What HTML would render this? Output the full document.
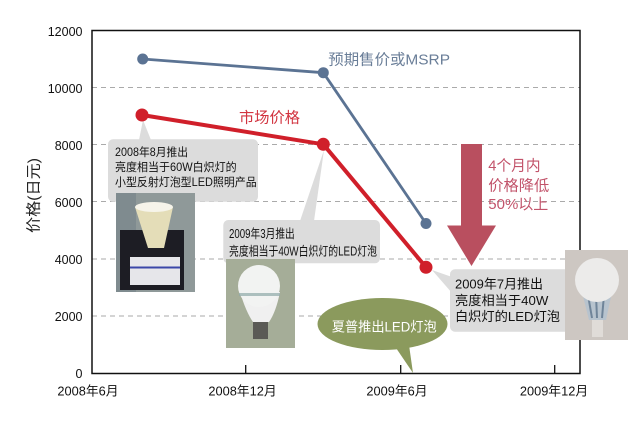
<!DOCTYPE html>
<html><head><meta charset="utf-8">
<style>
html,body{margin:0;padding:0;background:#fff;}
svg{display:block;font-family:"Liberation Sans","Noto Sans CJK SC",sans-serif;}
</style></head>
<body>
<svg width="642" height="427" viewBox="0 0 642 427" xmlns="http://www.w3.org/2000/svg">
<rect width="642" height="427" fill="#fff"/>
<!-- gridlines -->
<g stroke="#aaaaaa" stroke-width="1" stroke-dasharray="5,4">
<line x1="92" y1="87.5" x2="580" y2="87.5"/>
<line x1="92" y1="144.5" x2="580" y2="144.5"/>
<line x1="92" y1="201.5" x2="580" y2="201.5"/>
<line x1="92" y1="259" x2="580" y2="259"/>
<line x1="92" y1="316" x2="580" y2="316"/>
</g>
<!-- axes frame -->
<rect x="92" y="30.5" width="488" height="343" fill="none" stroke="#111" stroke-width="1.5"/>
<g stroke="#111" stroke-width="1.3">
<line x1="245.7" y1="365" x2="245.7" y2="373"/>
<line x1="400.7" y1="365" x2="400.7" y2="373"/>
<line x1="554.7" y1="365" x2="554.7" y2="373"/>
</g>
<!-- y tick labels -->
<g font-size="12.5" fill="#111" text-anchor="end">
<text x="82.5" y="36">12000</text>
<text x="82.5" y="93">10000</text>
<text x="82.5" y="150">8000</text>
<text x="82.5" y="207">6000</text>
<text x="82.5" y="264">4000</text>
<text x="82.5" y="321">2000</text>
<text x="82.5" y="378">0</text>
</g>
<text transform="translate(34,195.5) rotate(-90)" font-size="15" fill="#222" text-anchor="middle" dominant-baseline="central" textLength="75" lengthAdjust="spacingAndGlyphs">价格(日元)</text>
<!-- x labels -->
<g font-size="12.8" fill="#111" text-anchor="middle">
<text x="88" y="395.5">2008年6月</text>
<text x="242.5" y="395.5">2008年12月</text>
<text x="397" y="395.5">2009年6月</text>
<text x="554" y="395.5">2009年12月</text>
</g>

<!-- callout 1 -->
<polygon points="139,140 151,140 143,120" fill="#dcdcdc"/>
<rect x="108" y="139.3" width="150" height="62.4" rx="5" fill="#dcdcdc"/>
<g font-size="11.5" fill="#111">
<text x="115" y="155.8" textLength="73" lengthAdjust="spacingAndGlyphs">2008年8月推出</text>
<text x="115" y="170.8" textLength="121.7" lengthAdjust="spacingAndGlyphs">亮度相当于60W白炽灯的</text>
<text x="115" y="185.8" textLength="141.7" lengthAdjust="spacingAndGlyphs">小型反射灯泡型LED照明产品</text>
</g>
<!-- photo 1 -->
<rect x="116" y="193" width="79" height="99" fill="#8f9999"/>
<rect x="116" y="193" width="20" height="99" fill="#7f8b8f"/>
<rect x="120" y="230" width="64" height="60" fill="#1d1d24"/>
<rect x="130" y="257" width="50" height="28" fill="#e6e6ea"/>
<rect x="130" y="266.5" width="50" height="2" fill="#3a46a8"/>
<path d="M135,207 L173,207 L164,248 L148,248 Z" fill="#e4ddb8"/>
<ellipse cx="154" cy="207" rx="19" ry="5" fill="#f6f4ea"/>

<!-- callout 2 -->
<polygon points="300,221 314,221 324,150" fill="#dcdcdc"/>
<rect x="223.3" y="220" width="156.7" height="43.3" rx="5" fill="#dcdcdc"/>
<g font-size="12.5" fill="#111">
<text x="229" y="238" textLength="65.7" lengthAdjust="spacingAndGlyphs">2009年3月推出</text>
<text x="229" y="255.5" textLength="148" lengthAdjust="spacingAndGlyphs">亮度相当于40W白炽灯的LED灯泡</text>
</g>
<!-- photo 2 -->
<rect x="226" y="259" width="69" height="89" fill="#a5ad98"/>
<path d="M240,292 Q246,312 253,322 L269,322 Q276,312 280,292 Z" fill="#f0f0f0"/>
<circle cx="259" cy="286" r="21" fill="#f2f3f2"/>
<rect x="239" y="293" width="41" height="3" fill="#8fa8a8" opacity="0.7"/>
<rect x="253" y="322" width="15" height="17" fill="#5a5a55"/>

<!-- olive bubble -->
<polygon points="394,345 409,345 413,373" fill="#8b9a5d"/>
<ellipse cx="382.5" cy="324" rx="65" ry="26" fill="#8b9a5d"/>
<text x="331.7" y="331.5" font-size="13.5" fill="#fff" textLength="105" lengthAdjust="spacingAndGlyphs">夏普推出LED灯泡</text>

<!-- arrow -->
<rect x="461" y="144" width="21" height="82" fill="#b94f5f"/>
<polygon points="447,225.5 496,225.5 471.5,266" fill="#b94f5f"/>
<g font-size="15" fill="#c2536a">
<text x="488.3" y="170.5" textLength="52.3" lengthAdjust="spacingAndGlyphs">4个月内</text>
<text x="488.3" y="190.5" textLength="61" lengthAdjust="spacingAndGlyphs">价格降低</text>
<text x="488.3" y="209" textLength="60" lengthAdjust="spacingAndGlyphs">50%以上</text>
</g>

<!-- callout 3 -->
<polygon points="432,270 452,277 452,293" fill="#dcdcdc"/>
<rect x="450" y="269.3" width="120" height="62.4" rx="5" fill="#dcdcdc"/>
<g font-size="13" fill="#111">
<text x="455" y="288.5" textLength="88" lengthAdjust="spacingAndGlyphs">2009年7月推出</text>
<text x="455" y="305.2" textLength="93.3" lengthAdjust="spacingAndGlyphs">亮度相当于40W</text>
<text x="455" y="321.2" textLength="105" lengthAdjust="spacingAndGlyphs">白炽灯的LED灯泡</text>
</g>
<!-- photo 3 -->
<rect x="565" y="250" width="63" height="90" fill="#cdc7c2"/>
<path d="M582,292 L612,292 L606,320 L589,320 Z" fill="#b7c3ce"/>
<g stroke="#6f8499" stroke-width="2">
<line x1="588" y1="295" x2="592" y2="318"/>
<line x1="596" y1="295" x2="597" y2="318"/>
<line x1="604" y1="295" x2="602" y2="318"/>
</g>
<circle cx="597" cy="280" r="22" fill="#ecebea"/>
<rect x="592" y="320" width="11" height="17" fill="#e0dcd8"/>

<!-- series lines -->
<polyline points="142.7,59 323.3,72.7 426,223.5" fill="none" stroke="#5b7393" stroke-width="2.8" stroke-linejoin="round"/>
<circle cx="142.7" cy="59" r="5.5" fill="#5b7393"/>
<circle cx="323.3" cy="72.7" r="5.5" fill="#5b7393"/>
<circle cx="426" cy="223.5" r="5.5" fill="#5b7393"/>
<polyline points="142,115 323.3,144.3 426,267.3" fill="none" stroke="#d01f2a" stroke-width="4" stroke-linejoin="round"/>
<circle cx="142" cy="115" r="6.5" fill="#d01f2a"/>
<circle cx="323.3" cy="144.3" r="6.5" fill="#d01f2a"/>
<circle cx="426" cy="267.3" r="6.5" fill="#d01f2a"/>

<!-- series labels -->
<text x="328.3" y="64.5" font-size="15" fill="#6a7e98" textLength="121.7" lengthAdjust="spacingAndGlyphs">预期售价或MSRP</text>
<text x="239" y="122.5" font-size="15" fill="#d2333f" textLength="61" lengthAdjust="spacingAndGlyphs">市场价格</text>
</svg>
</body></html>
